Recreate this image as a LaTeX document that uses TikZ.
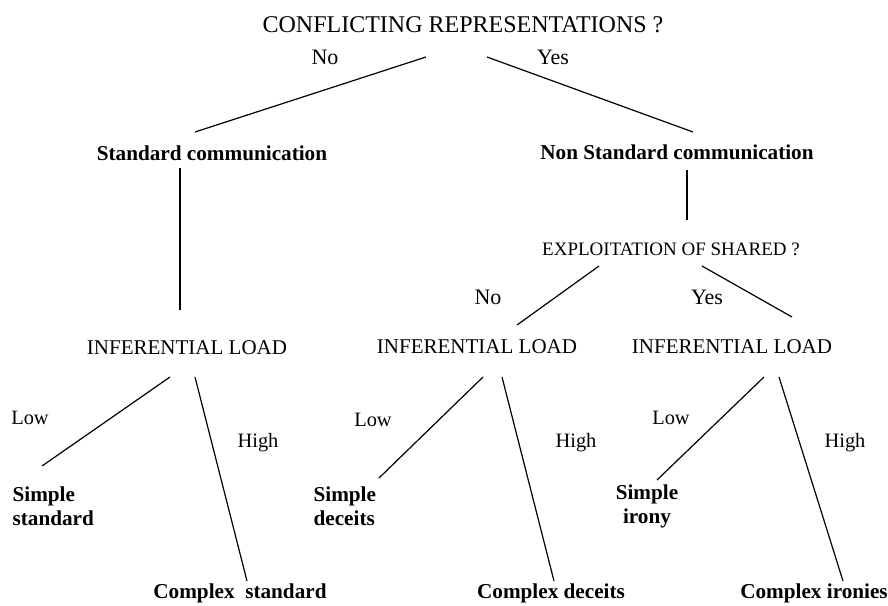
\documentclass[tikz,border=0pt]{standalone}
\usepackage{fontspec}
\setmainfont{Liberation Serif}

\begin{document}
\begin{tikzpicture}[x=0.5pt, y=-0.5pt, line width=0.6pt,
  ques/.style={inner sep=0pt, font=\fontsize{10.5}{12}\selectfont},
  ans/.style={inner sep=0pt, font=\fontsize{11}{13}\selectfont},
  lvl/.style={inner sep=0pt, font=\fontsize{10.2}{12}\selectfont},
  leaf/.style={inner sep=0pt, font=\fontsize{10.6}{12}\selectfont\bfseries}]
\useasboundingbox (0,0) rectangle (888,605);
% questions
\node[ques, font=\fontsize{12}{14}\selectfont] (title) at (463,25) {CONFLICTING REPRESENTATIONS ?};
\node[ques, font=\fontsize{9.5}{11}\selectfont] (expl) at (671,249) {EXPLOITATION OF SHARED ?};
\node[ques] (loadA) at (187,348) {INFERENTIAL LOAD};
\node[ques] (loadB) at (477,347) {INFERENTIAL LOAD};
\node[ques] (loadC) at (732,347) {INFERENTIAL LOAD};
% answers
\node[ans] (no1) at (325,57) {No};
\node[ans] (yes1) at (553,57) {Yes};
\node[ans] (no2) at (488,297) {No};
\node[ans] (yes2) at (707,297) {Yes};
\node[lvl] (lowA) at (30,418) {Low};
\node[lvl] (lowB) at (373,420) {Low};
\node[lvl] (lowC) at (671,418) {Low};
\node[lvl] (highA) at (258,443) {High};
\node[lvl] (highB) at (576,443) {High};
\node[lvl] (highC) at (845,443) {High};
% outcomes
\node[leaf] (std) at (212,153) {Standard communication};
\node[leaf] (nonstd) at (677,152) {Non Standard communication};
\node[leaf, anchor=west, align=left] (simA) at (12,506) {Simple\\standard};
\node[leaf, anchor=west, align=left] (simB) at (313,506) {Simple\\deceits};
\node[leaf, align=center] (simC) at (647,506) {Simple\\irony};
\node[leaf] (cplxA) at (240,593) {Complex\ \ standard};
\node[leaf] (cplxB) at (551,593) {Complex deceits};
\node[leaf] (cplxC) at (814,593) {Complex ironies};
% line ends
\coordinate (title-l) at (426,57);
\coordinate (title-r) at (487,57);
\coordinate (std-up) at (195,132);
\coordinate (std-dn) at (180,168);
\coordinate (nonstd-up) at (693,132);
\coordinate (nonstd-dn) at (687,170);
\coordinate (expl-up) at (687,220);
\coordinate (expl-l) at (599,266);
\coordinate (expl-r) at (702,266);
\coordinate (loadA-up) at (180,310);
\coordinate (loadA-l) at (170,377);
\coordinate (loadA-r) at (195,377);
\coordinate (loadB-up) at (517,325);
\coordinate (loadB-l) at (483,377);
\coordinate (loadB-r) at (502,377);
\coordinate (loadC-up) at (792,317);
\coordinate (loadC-l) at (764,377);
\coordinate (loadC-r) at (779,377);
\coordinate (simA-up) at (42,466);
\coordinate (simB-up) at (379,478);
\coordinate (simC-up) at (657,480);
\coordinate (cplxA-up) at (247,581);
\coordinate (cplxB-up) at (554,581);
\coordinate (cplxC-up) at (843,581);
\draw (title-l) -- (std-up);
\draw (title-r) -- (nonstd-up);
\draw (std-dn) -- (loadA-up);
\draw (nonstd-dn) -- (expl-up);
\draw (expl-l) -- (loadB-up);
\draw (expl-r) -- (loadC-up);
\draw (loadA-l) -- (simA-up);
\draw (loadA-r) -- (cplxA-up);
\draw (loadB-l) -- (simB-up);
\draw (loadB-r) -- (cplxB-up);
\draw (loadC-l) -- (simC-up);
\draw (loadC-r) -- (cplxC-up);
\end{tikzpicture}
\end{document}
